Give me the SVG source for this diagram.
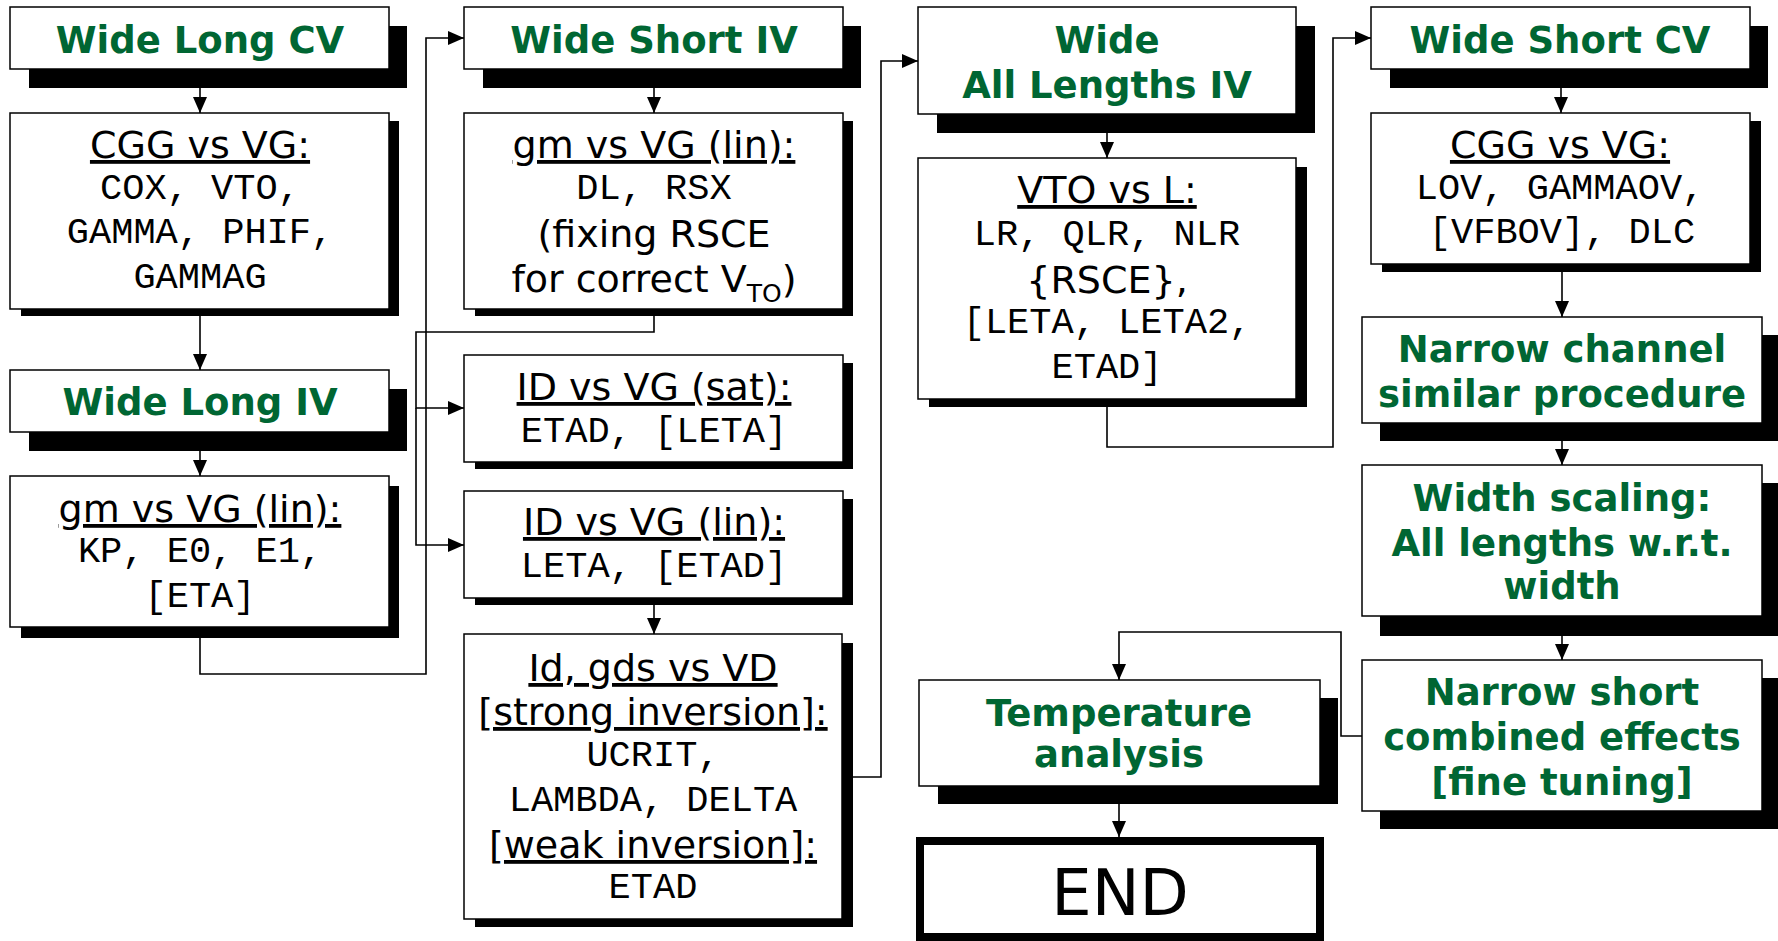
<svg xmlns="http://www.w3.org/2000/svg" width="1778" height="941" viewBox="0 0 1778 941">
<style>
.box{fill:#fff;stroke:#000;stroke-width:1.5}
.sh{fill:#000}
.t{font-family:"DejaVu Sans",Verdana,sans-serif;font-weight:bold;font-size:37px;fill:#006633;text-anchor:middle}
.s{font-family:"DejaVu Sans",Verdana,sans-serif;font-size:38px;fill:#000;text-anchor:middle}
.u{text-decoration:underline}
.m{font-family:"Liberation Mono","Courier New",monospace;font-size:37px;fill:#000;text-anchor:middle}
.c{fill:none;stroke:#000;stroke-width:1.6}
.end{fill:#fff;stroke:#000;stroke-width:8}
.big{font-size:64px}
.sub{font-size:25px}
</style>
<defs>
<marker id="ah" markerUnits="userSpaceOnUse" markerWidth="16" markerHeight="14" refX="16" refY="7" orient="auto">
<path d="M0,0 L16,7 L0,14 z" fill="#000"/>
</marker>
</defs>
<rect width="1778" height="941" fill="#fff"/>
<g id="connectors">
<path class="c" d="M200,69 V113" marker-end="url(#ah)"/>
<path class="c" d="M200,309 V370" marker-end="url(#ah)"/>
<path class="c" d="M200,432 V476" marker-end="url(#ah)"/>
<path class="c" d="M200,627 V674 H426 V38 H464" marker-end="url(#ah)"/>
<path class="c" d="M654,69 V113" marker-end="url(#ah)"/>
<path class="c" d="M654,309 V332 H416 V408 H464" marker-end="url(#ah)"/>
<path class="c" d="M416,408 V545 H464" marker-end="url(#ah)"/>
<path class="c" d="M654,598 V634" marker-end="url(#ah)"/>
<path class="c" d="M842,777 H881 V61 H918" marker-end="url(#ah)"/>
<path class="c" d="M1107,114 V158" marker-end="url(#ah)"/>
<path class="c" d="M1107,399 V447 H1333 V38 H1371" marker-end="url(#ah)"/>
<path class="c" d="M1561,69 V113" marker-end="url(#ah)"/>
<path class="c" d="M1562,264 V317" marker-end="url(#ah)"/>
<path class="c" d="M1562,423 V465" marker-end="url(#ah)"/>
<path class="c" d="M1562,616 V660" marker-end="url(#ah)"/>
<path class="c" d="M1362,736 H1341 V632 H1119 V680" marker-end="url(#ah)"/>
<path class="c" d="M1119,786 V837" marker-end="url(#ah)"/>
</g>

<g id="wide-long-cv">
<rect class="sh" x="29" y="26" width="378" height="62"/>
<rect class="box" x="10" y="7" width="379" height="62"/>
<text class="t" x="200" y="53">Wide Long CV</text>
</g>
<g id="cgg-vg-1">
<rect class="sh" x="21" y="121" width="378" height="195"/>
<rect class="box" x="10" y="113" width="379" height="196"/>
<text class="s u" x="200" y="158">CGG vs VG:</text>
<text class="m" x="200" y="199">COX, VTO,</text>
<text class="m" x="200" y="243">GAMMA, PHIF,</text>
<text class="m" x="200" y="288">GAMMAG</text>
</g>
<g id="wide-long-iv">
<rect class="sh" x="29" y="389" width="378" height="62"/>
<rect class="box" x="10" y="370" width="379" height="62"/>
<text class="t" x="200" y="415">Wide Long IV</text>
</g>
<g id="gm-vg-1">
<rect class="sh" x="21" y="486" width="378" height="152"/>
<rect class="box" x="10" y="476" width="379" height="151"/>
<text class="s u" x="200" y="522">gm vs VG (lin):</text>
<text class="m" x="200" y="562">KP, E0, E1,</text>
<text class="m" x="200" y="607">[ETA]</text>
</g>

<g id="wide-short-iv">
<rect class="sh" x="483" y="26" width="378" height="62"/>
<rect class="box" x="464" y="7" width="379" height="62"/>
<text class="t" x="654" y="53">Wide Short IV</text>
</g>
<g id="gm-vg-2">
<rect class="sh" x="475" y="121" width="378" height="195"/>
<rect class="box" x="464" y="113" width="379" height="196"/>
<text class="s u" x="654" y="158">gm vs VG (lin):</text>
<text class="m" x="654" y="199">DL, RSX</text>
<text class="s" x="654" y="247">(fixing RSCE</text>
<text class="s" x="654" y="292">for correct V<tspan class="sub" dy="10">TO</tspan><tspan dy="-10">)</tspan></text>
</g>
<g id="id-vg-sat">
<rect class="sh" x="475" y="363" width="378" height="106"/>
<rect class="box" x="464" y="355" width="379" height="107"/>
<text class="s u" x="654" y="400">ID vs VG (sat):</text>
<text class="m" x="654" y="442">ETAD, [LETA]</text>
</g>
<g id="id-vg-lin">
<rect class="sh" x="475" y="499" width="378" height="106"/>
<rect class="box" x="464" y="491" width="379" height="107"/>
<text class="s u" x="654" y="535">ID vs VG (lin):</text>
<text class="m" x="654" y="577">LETA, [ETAD]</text>
</g>
<g id="id-gds-vd">
<rect class="sh" x="475" y="643" width="378" height="284"/>
<rect class="box" x="464" y="634" width="378" height="285"/>
<text class="s u" x="653" y="681">Id, gds vs VD</text>
<text class="s u" x="653" y="725">[strong inversion]:</text>
<text class="m" x="653" y="766">UCRIT,</text>
<text class="m" x="653" y="811">LAMBDA, DELTA</text>
<text class="s u" x="653" y="858">[weak inversion]:</text>
<text class="m" x="653" y="898">ETAD</text>
</g>

<g id="wide-all-lengths-iv">
<rect class="sh" x="937" y="26" width="378" height="107"/>
<rect class="box" x="918" y="7" width="378" height="107"/>
<text class="t" x="1107" y="53">Wide</text>
<text class="t" x="1107" y="98">All Lengths IV</text>
</g>
<g id="vto-vs-l">
<rect class="sh" x="929" y="167" width="378" height="240"/>
<rect class="box" x="918" y="158" width="378" height="241"/>
<text class="s u" x="1107" y="203">VTO vs L:</text>
<text class="m" x="1107" y="245">LR, QLR, NLR</text>
<text class="s" x="1107" y="293">{RSCE},</text>
<text class="m" x="1107" y="333">[LETA, LETA2,</text>
<text class="m" x="1107" y="378">ETAD]</text>
</g>
<g id="temperature">
<rect class="sh" x="938" y="698" width="400" height="106"/>
<rect class="box" x="919" y="680" width="401" height="106"/>
<text class="t" x="1119" y="726">Temperature</text>
<text class="t" x="1119" y="767">analysis</text>
</g>
<g id="end">
<rect class="end" x="920" y="841" width="400" height="96"/>
<text class="s big" x="1120" y="915">END</text>
</g>

<g id="wide-short-cv">
<rect class="sh" x="1390" y="26" width="378" height="62"/>
<rect class="box" x="1371" y="7" width="379" height="62"/>
<text class="t" x="1560" y="53">Wide Short CV</text>
</g>
<g id="cgg-vg-2">
<rect class="sh" x="1382" y="121" width="379" height="151"/>
<rect class="box" x="1371" y="113" width="379" height="151"/>
<text class="s u" x="1560" y="158">CGG vs VG:</text>
<text class="m" x="1560" y="199">LOV, GAMMAOV,</text>
<text class="m" x="1562" y="243">[VFBOV], DLC</text>
</g>
<g id="narrow-channel">
<rect class="sh" x="1380" y="335" width="400" height="106"/>
<rect class="box" x="1362" y="317" width="400" height="106"/>
<text class="t" x="1562" y="362">Narrow channel</text>
<text class="t" x="1562" y="407">similar procedure</text>
</g>
<g id="width-scaling">
<rect class="sh" x="1380" y="483" width="400" height="153"/>
<rect class="box" x="1362" y="465" width="400" height="151"/>
<text class="t" x="1562" y="511">Width scaling:</text>
<text class="t" x="1562" y="556">All lengths w.r.t.</text>
<text class="t" x="1562" y="599">width</text>
</g>
<g id="narrow-short">
<rect class="sh" x="1380" y="678" width="400" height="151"/>
<rect class="box" x="1362" y="660" width="400" height="151"/>
<text class="t" x="1562" y="705">Narrow short</text>
<text class="t" x="1562" y="750">combined effects</text>
<text class="t" x="1562" y="795">[fine tuning]</text>
</g>
</svg>
